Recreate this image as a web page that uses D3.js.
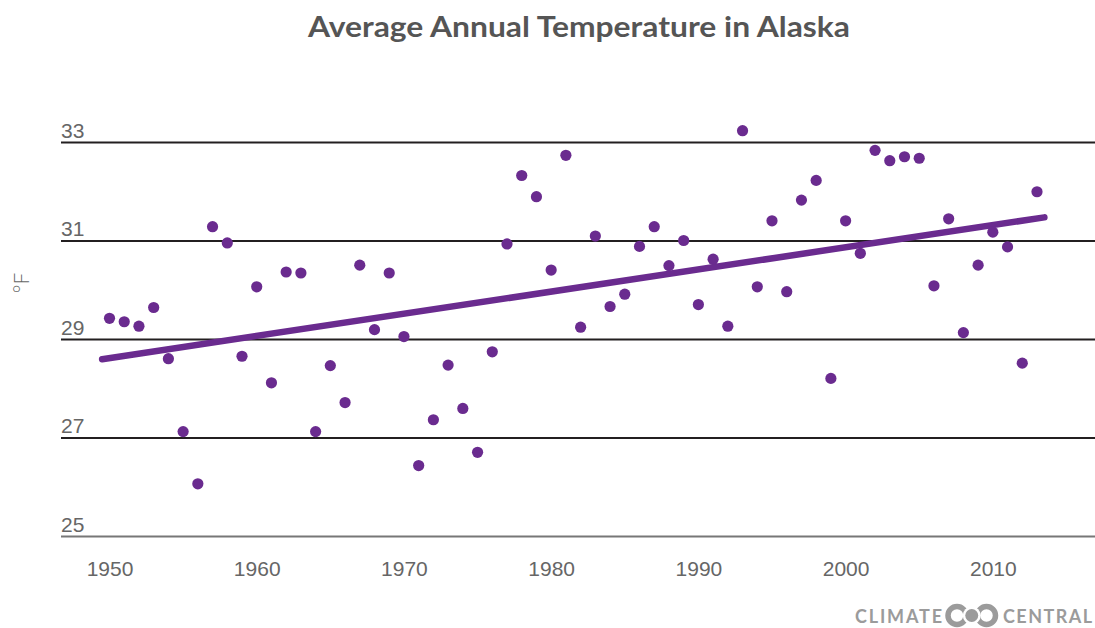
<!DOCTYPE html>
<html>
<head>
<meta charset="utf-8">
<script src="https://cdn.jsdelivr.net/npm/d3@7"></script>
<style>
  body { margin: 0; background: #fff; }
  svg { display: block; font-family: Lato, "Open Sans", sans-serif; }
</style>
</head>
<body>
<div class="graph"></div>
<script>
let w = 1095;
let h = 628;

// annual mean temperature, deg F
let years = [];
for (let yr = 1950; yr <= 2013; yr++) years.push(yr);
let temps = [
  29.42, 29.35, 29.26, 29.64, 28.60, 27.12, 26.06, 31.28, 30.95, 28.65,
  30.06, 28.11, 30.36, 30.34, 27.12, 28.46, 27.71, 30.50, 29.19, 30.34,
  29.05, 26.43, 27.36, 28.47, 27.59, 26.70, 28.74, 30.93, 32.32, 31.89,
  30.40, 32.73, 29.24, 31.09, 29.66, 29.91, 30.88, 31.28, 30.49, 31.00,
  29.70, 30.62, 29.26, 33.23, 30.06, 31.40, 29.96, 31.82, 32.22, 28.20,
  31.40, 30.74, 32.83, 32.62, 32.70, 32.67, 30.08, 31.44, 29.13, 30.50,
  31.17, 30.87, 28.51, 31.99
];
let trendYears = [1949.5, 2013.5];
let trendTemps = [28.59, 31.47];
let yTicks = [25, 27, 29, 31, 33];
let xTicks = [1950, 1960, 1970, 1980, 1990, 2000, 2010];

let purple = "#6a2b8f";
let logoGray = "#9b9b9b";

let svgvar = d3
  .select(".graph")
  .append("svg")
  .attr("width", w)
  .attr("height", h);

let xScale = d3.scaleLinear().domain([1950, 2013]).range([109.5, 1037]);
let yScale = d3.scaleLinear().domain([25, 33]).range([536, 142]);

// title
svgvar
  .append("text")
  .attr("x", 308)
  .attr("y", 37)
  .attr("textLength", 542)
  .attr("lengthAdjust", "spacingAndGlyphs")
  .style("font-size", "28px")
  .style("font-weight", "bold")
  .style("fill", "#555")
  .text("Average Annual Temperature in Alaska");

// y gridlines + labels
let yAxis = d3.axisLeft(yScale).tickValues(yTicks).tickSize(-(w - 61)).tickFormat(d3.format("d"));
let gy = svgvar
  .append("g")
  .attr("id", "y-axis")
  .attr("transform", "translate(61, 0)")
  .call(yAxis);
gy.select(".domain").remove();
gy.selectAll(".tick line")
  .attr("stroke", (d) => (d == 25 ? "#777" : "#231f20"))
  .attr("stroke-width", 2);
gy.selectAll(".tick text")
  .attr("x", 0)
  .attr("dy", 0)
  .attr("y", -5)
  .attr("text-anchor", "start")
  .style("font-size", "21px")
  .style("font-weight", 300)
  .style("fill", "#666");

// x labels
let xAxis = d3.axisBottom(xScale).tickValues(xTicks).tickSize(0).tickFormat(d3.format("d"));
let gx = svgvar
  .append("g")
  .attr("id", "x-axis")
  .attr("transform", "translate(0, 560)")
  .call(xAxis);
gx.select(".domain").remove();
gx.selectAll(".tick text")
  .attr("y", 16)
  .attr("dy", 0)
  .style("font-size", "21px")
  .style("font-weight", 300)
  .style("fill", "#666");

// unit label
svgvar
  .append("text")
  .attr("transform", "translate(29, 283) rotate(-90)")
  .attr("text-anchor", "middle")
  .style("font-size", "21px")
  .style("font-weight", 300)
  .style("fill", "#666")
  .text("°F");

// trend line
let line = d3
  .line()
  .x((d, i) => xScale(trendYears[i]))
  .y((d) => yScale(d));
svgvar
  .append("path")
  .datum(trendTemps)
  .attr("d", line)
  .attr("fill", "none")
  .attr("stroke", purple)
  .attr("stroke-width", 6.5)
  .attr("stroke-linecap", "round");

// dots
svgvar
  .selectAll("circle.dot")
  .data(temps)
  .enter()
  .append("circle")
  .attr("class", "dot")
  .attr("cx", (d, i) => xScale(years[i]))
  .attr("cy", (d) => yScale(d))
  .attr("r", 5.6)
  .style("fill", purple);

// logo
let logo = svgvar.append("g").style("fill", logoGray);
logo
  .append("text")
  .attr("x", 855)
  .attr("y", 623)
  .attr("textLength", 87)
  .attr("lengthAdjust", "spacing")
  .style("font-size", "18px")
  .style("font-weight", "bold")
  .text("CLIMATE");
logo
  .append("text")
  .attr("x", 1003)
  .attr("y", 623)
  .attr("textLength", 89)
  .attr("lengthAdjust", "spacing")
  .style("font-size", "18px")
  .style("font-weight", "bold")
  .text("CENTRAL");
logo.append("circle").attr("cx", 957).attr("cy", 615.5).attr("r", 9)
  .style("fill", "none").style("stroke", logoGray).style("stroke-width", 5.5);
logo.append("circle").attr("cx", 986.5).attr("cy", 615.5).attr("r", 9)
  .style("fill", "none").style("stroke", logoGray).style("stroke-width", 5.5);
logo.append("circle").attr("cx", 971.75).attr("cy", 615.5).attr("r", 9)
  .style("fill", "#fff");
logo.append("circle").attr("cx", 971.75).attr("cy", 615.5).attr("r", 6.5)
  .style("fill", logoGray);
</script>
</body>
</html>
